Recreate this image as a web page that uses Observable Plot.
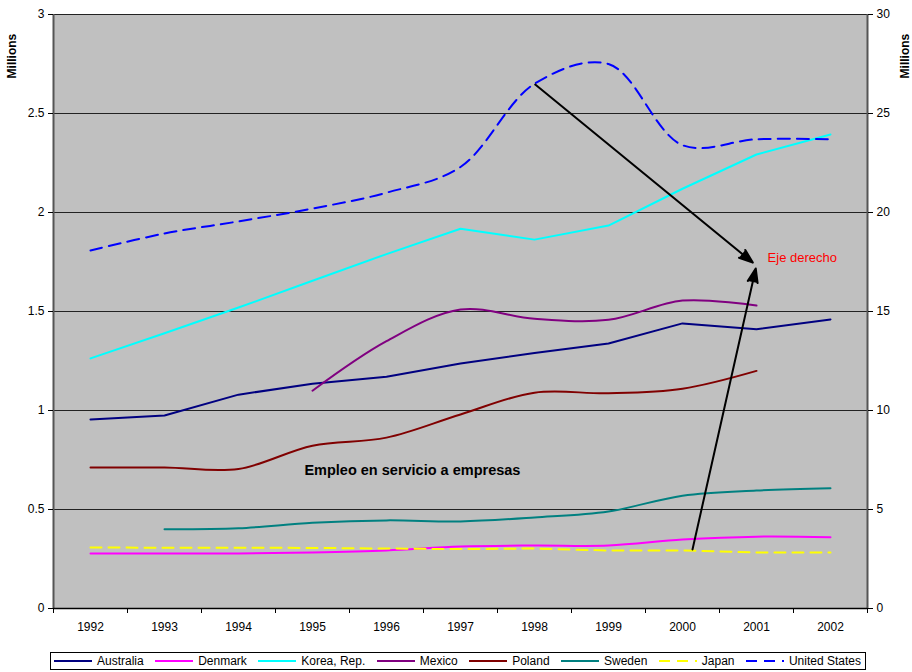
<!DOCTYPE html>
<html>
<head>
<meta charset="utf-8">
<script src="https://cdn.jsdelivr.net/npm/d3@7"></script>
<script src="https://cdn.jsdelivr.net/npm/@observablehq/plot@0.6"></script>
<style>
  body { margin: 0; background: #fff; font-family: "Liberation Sans", Arial, sans-serif; }
  #legend { margin: 4px 0 0 50px; width: 816px; height: 18px; border: 1px solid #000; display: flex; align-items: center; justify-content: space-between; padding: 0 4px 0 2px; box-sizing: border-box; font-size: 12px; color: #000; }
  #legend .item { display: flex; align-items: center; white-space: nowrap; }
  #legend svg { margin-right: 4px; }
</style>
</head>
<body>
<div id="chart"></div>
<div id="legend"></div>
<script>
const years = [1992, 1993, 1994, 1995, 1996, 1997, 1998, 1999, 2000, 2001, 2002];
const australia = [0.955, 0.975, 1.08, 1.135, 1.17, 1.237, 1.29, 1.338, 1.44, 1.41, 1.46];
const denmark = [0.278, 0.278, 0.278, 0.283, 0.293, 0.313, 0.318, 0.318, 0.348, 0.363, 0.36];
const korea = [1.263, 1.39, 1.52, 1.655, 1.79, 1.918, 1.863, 1.934, 2.12, 2.293, 2.394];
const mexico = [null, null, null, 1.10, 1.35, 1.51, 1.463, 1.458, 1.555, 1.53, null];
const poland = [0.712, 0.712, 0.705, 0.822, 0.863, 0.98, 1.09, 1.087, 1.11, 1.2, null];
const sweden = [null, 0.4, 0.405, 0.433, 0.445, 0.44, 0.46, 0.49, 0.57, 0.596, 0.607];
const japan = [0.308, 0.307, 0.307, 0.306, 0.303, 0.3, 0.303, 0.293, 0.293, 0.283, 0.283];
const unitedStates = [18.08, 18.94, 19.55, 20.2, 21.0, 22.3, 26.5, 27.5, 23.4, 23.7, 23.7]; // right axis

const leftTicks = [0, 0.5, 1, 1.5, 2, 2.5, 3];
const axisLabel = "Millions";

const seriesDefs = [
  {name: "Australia", values: australia, color: "#000080", dash: null, curve: "linear", scale: 1},
  {name: "Denmark", values: denmark, color: "#ff00ff", dash: null, curve: "catmull-rom", scale: 1},
  {name: "Korea, Rep.", values: korea, color: "#00ffff", dash: null, curve: "linear", scale: 1},
  {name: "Mexico", values: mexico, color: "#800080", dash: null, curve: "catmull-rom", scale: 1},
  {name: "Poland", values: poland, color: "#800000", dash: null, curve: "catmull-rom", scale: 1},
  {name: "Sweden", values: sweden, color: "#008080", dash: null, curve: "catmull-rom", scale: 1},
  {name: "Japan", values: japan, color: "#ffff00", dash: "11,7", curve: "linear", scale: 1},
  {name: "United States", values: unitedStates, color: "#0000ff", dash: "12,7", curve: "catmull-rom", scale: 10}
];

const arrows = [
  {x1: 1998.01, y1: 2.646, x2: 2000.95, y2: 1.747},
  {x1: 2000.135, y1: 0.298, x2: 2000.99, y2: 1.717}
];
const boldNotes = [{x: 1996.35, y: 0.70, text: "Empleo en servicio a empresas"}];
const redNotes = [{x: 2001.15, y: 1.773, text: "Eje derecho"}];

const boundaries = d3.range(1991.5, 2003, 1);

const lineMarks = seriesDefs.map(s => {
  const data = years.map((y, i) => ({year: y, v: s.values[i]})).filter(d => d.v != null);
  return Plot.line(data, {
    x: "year", y: d => d.v / s.scale, stroke: s.color, strokeWidth: 2,
    strokeDasharray: s.dash, curve: s.curve
  });
});

const chart = Plot.plot({
  width: 912, height: 648,
  marginLeft: 53, marginRight: 45, marginTop: 14, marginBottom: 40,
  style: {fontFamily: "Liberation Sans, Arial, sans-serif", fontSize: "12px", color: "#000", background: "#fff"},
  x: {domain: [1991.5, 2002.5]},
  y: {domain: [0, 3]},
  marks: [
    Plot.frame({fill: "#c0c0c0", stroke: null}),
    Plot.gridY(leftTicks, {stroke: "#222", strokeOpacity: 1, strokeWidth: 1}),
    Plot.ruleX([1991.5], {stroke: "#555", strokeWidth: 2}),
    Plot.ruleX([2002.5], {stroke: "#555", strokeWidth: 2}),
    Plot.ruleY([0], {stroke: "#000", strokeWidth: 1.5}),
    Plot.axisY(leftTicks, {anchor: "left", tickSize: 5, tickPadding: 4, label: null, tickFormat: d => String(d), fontSize: 12}),
    Plot.axisY(leftTicks, {anchor: "right", tickSize: 5, tickPadding: 4, label: null, tickFormat: d => String(d * 10), fontSize: 12}),
    Plot.axisX(years, {anchor: "bottom", tickSize: 0, tickPadding: 14, label: null, tickFormat: d => String(d), fontSize: 12}),
    Plot.axisX(boundaries, {anchor: "bottom", tickSize: 5, tickFormat: () => "", label: null}),
    ...lineMarks,
    Plot.arrow(arrows, {x1: "x1", y1: "y1", x2: "x2", y2: "y2", stroke: "#000", fill: "#000", strokeWidth: 2, headLength: 11, headAngle: 40, insetStart: 0, insetEnd: 0}),
    Plot.text(boldNotes, {x: "x", y: "y", text: "text", fill: "#000", fontWeight: "bold", fontSize: 14.5, textAnchor: "middle"}),
    Plot.text(redNotes, {x: "x", y: "y", text: "text", fill: "#ff0000", fontSize: 13, textAnchor: "start"}),
    Plot.text([axisLabel], {x: 1991.5, y: 2.79, text: d => d, rotate: -90, dx: -41, fontWeight: "bold", fontSize: 12}),
    Plot.text([axisLabel], {x: 2002.5, y: 2.79, text: d => d, rotate: -90, dx: 38, fontWeight: "bold", fontSize: 12})
  ]
});
document.getElementById("chart").appendChild(chart);

const legend = d3.select("#legend");
seriesDefs.forEach(s => {
  const item = legend.append("div").attr("class", "item");
  const svg = item.append("svg").attr("width", 40).attr("height", 8);
  svg.append("line").attr("x1", 1).attr("x2", 39).attr("y1", 4).attr("y2", 4)
    .attr("stroke", s.color).attr("stroke-width", 2)
    .attr("stroke-dasharray", s.dash ? "11,7" : null);
  item.append("span").text(s.name);
});
</script>
</body>
</html>
